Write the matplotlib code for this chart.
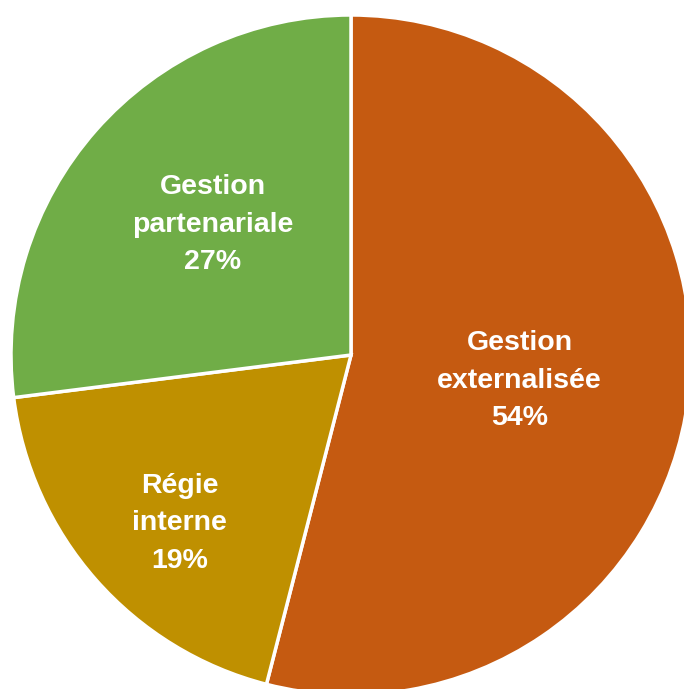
import numpy as np
import matplotlib
matplotlib.use('Agg')
import matplotlib.pyplot as plt

labels = ['Gestion\nexternalisée', 'Régie\ninterne', 'Gestion\npartenariale']
values = [54, 19, 27]
colors = ['#C55A11', '#BF9000', '#70AD47']
# label placement: distance from centre (radius units) and angle nudge (deg)
label_dist = [0.50, 0.70, 0.565]
label_nudge = [-0.5, 2.6, -2.6]

fig = plt.figure(figsize=(6.84, 6.89), dpi=100)
# pie centre ~ (351, 355) px, radius ~ 340 px, cropped at right and bottom
ax = fig.add_axes([11 / 684, -6 / 689, 680 / 684, 680 / 689])
wedges, _ = ax.pie(values, colors=colors, startangle=90, counterclock=False,
                   radius=1.0, wedgeprops=dict(edgecolor='white', linewidth=2.5))
ax.set_xlim(-1, 1)
ax.set_ylim(-1, 1)
ax.set_aspect('equal')
ax.axis('off')

for w, lab, v, d, n in zip(wedges, labels, values, label_dist, label_nudge):
    ang = np.deg2rad((w.theta1 + w.theta2) / 2 + n)
    ax.text(d * np.cos(ang), d * np.sin(ang) - 0.009, f'{lab}\n{v}%',
            ha='center', va='center', color='white', fontsize=20.5,
            fontweight='bold', family=['Liberation Sans', 'DejaVu Sans'],
            linespacing=1.58)

fig.savefig('out.png', dpi=100)
